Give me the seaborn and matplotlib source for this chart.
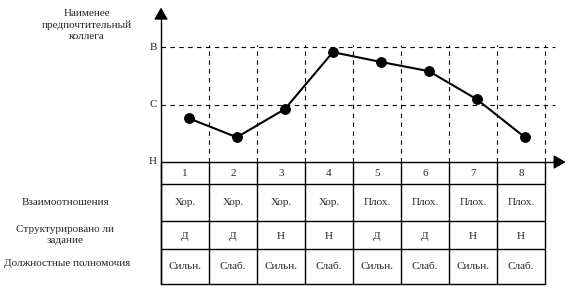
import numpy as np
import pandas as pd
import matplotlib
matplotlib.use("Agg")
import matplotlib.pyplot as plt
import seaborn as sns

# ---- data ----
situations = ["1", "2", "3", "4", "5", "6", "7", "8"]
lpc_values = [0.76, 0.43, 0.92, 1.91, 1.74, 1.58, 1.09, 0.43]
level_labels = ["Н", "С", "В"]
relations = ["Хор.", "Хор.", "Хор.", "Хор.", "Плох.", "Плох.", "Плох.", "Плох."]
structure = ["Д", "Д", "Н", "Н", "Д", "Д", "Н", "Н"]
power = ["Сильн.", "Слаб.", "Сильн.", "Слаб.", "Сильн.", "Слаб.", "Сильн.", "Слаб."]
row_titles = ["Взаимоотношения", "Структурировано ли\nзадание", "Должностные полномочия"]
y_title = "Наименее\nпредпочтительный\nколлега"

sns.set_theme(style="white")
plt.rcParams["font.family"] = ["Liberation Serif", "DejaVu Serif"]
FS = 8

W, H = 569, 289
fig = plt.figure(figsize=(W / 100, H / 100), dpi=100)
ax = fig.add_axes([0, 0, 1, 1])
ax.set_axis_off()

# pixel-based scale: column width 48 px, level unit 57.5 px
x0_px, y0_px, cw, lu = 161, 162, 48.0, 57.5
ax.set_xlim(-x0_px / cw, (W - x0_px) / cw)
ax.set_ylim(-(H - y0_px) / lu, y0_px / lu)

n = len(situations)
K = "black"
dash = (0, (4, 4))

# dashed level lines
for lv in (1, 2):
    ax.plot([0, 8.2], [lv, lv], color=K, lw=0.8, linestyle=dash)
# dashed vertical grid
for i in range(1, n + 1):
    ax.plot([i, i], [0, 2.03], color=K, lw=0.8, linestyle=dash)

# table
row_edges = [0, -0.383, -1.026, -1.513, -2.122]
for r in row_edges[1:]:
    ax.plot([0, n], [r, r], color=K, lw=1.0)
for i in range(0, n + 1):
    ax.plot([i, i], [0, row_edges[-1]], color=K, lw=1.0)

# axes with arrows
ax.plot([0, 0], [row_edges[-1], 2.5], color=K, lw=1.0)
ax.plot([0, 8.3], [0, 0], color=K, lw=1.0)
ax.annotate("", xy=(0, 2.685), xytext=(0, 2.5),
            arrowprops=dict(arrowstyle="-|>,head_length=0.6,head_width=0.35", color=K, lw=1.0,
                            shrinkA=0, shrinkB=0))
ax.annotate("", xy=(8.43, 0), xytext=(8.18, 0),
            arrowprops=dict(arrowstyle="-|>,head_length=0.6,head_width=0.35", color=K, lw=1.0,
                            shrinkA=0, shrinkB=0))

# data line
df = pd.DataFrame({"x": np.arange(n) + 0.58, "y": lpc_values})
sns.lineplot(data=df, x="x", y="y", ax=ax, color=K, lw=1.5, marker="o",
             markersize=7, markeredgecolor=K, markerfacecolor=K, zorder=5)
ax.set_xlabel("")
ax.set_ylabel("")
ax.set_axis_off()

# level labels
for lv, lab in enumerate(level_labels):
    ax.text(-0.08, lv, lab, ha="right", va="center", fontsize=FS)

# y title
ax.text(-1.54, 2.38, y_title, ha="center", va="center", fontsize=FS, linespacing=1.35)

# table contents
def mid(a, b):
    return (a + b) / 2

for i in range(n):
    cx = i + 0.5
    ax.text(cx, mid(row_edges[0], row_edges[1]), situations[i], ha="center", va="center", fontsize=FS)
    ax.text(cx, mid(row_edges[1], row_edges[2]), relations[i], ha="center", va="center", fontsize=FS)
    ax.text(cx, row_edges[3] + 0.14, structure[i], ha="center", va="bottom", fontsize=FS)
    ax.text(cx, mid(row_edges[3], row_edges[4]), power[i], ha="center", va="center", fontsize=FS)

ax.text(-2.0, -0.713, row_titles[0], ha="center", va="center", fontsize=FS)
ax.text(-2.0, -1.27, row_titles[1], ha="center", va="center", fontsize=FS, linespacing=1.35)
ax.text(-1.95, -1.76, row_titles[2], ha="center", va="center", fontsize=FS)

fig.savefig("out.png", dpi=100, facecolor="white")
